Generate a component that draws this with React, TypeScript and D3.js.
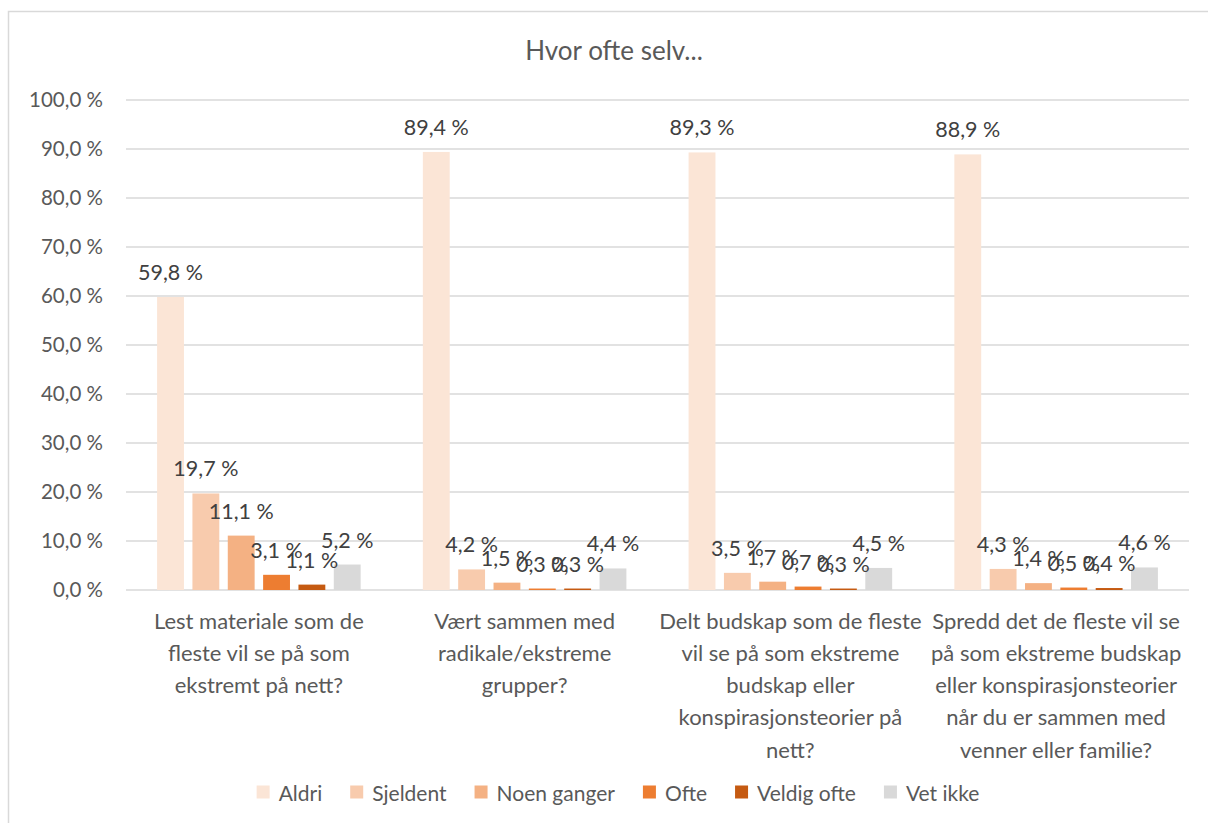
import * as d3 from 'd3';
import React, { useRef, useEffect } from 'react';

// survey answers, share of respondents in percent
const categories = [
  ['Lest materiale som de', 'fleste vil se på som', 'ekstremt på nett?'],
  ['Vært sammen med', 'radikale/ekstreme', 'grupper?'],
  ['Delt budskap som de fleste', 'vil se på som ekstreme', 'budskap eller', 'konspirasjonsteorier på', 'nett?'],
  ['Spredd det de fleste vil se', 'på som ekstreme budskap', 'eller konspirasjonsteorier', 'når du er sammen med', 'venner eller familie?'],
];
const seriesNames = ['Aldri', 'Sjeldent', 'Noen ganger', 'Ofte', 'Veldig ofte', 'Vet ikke'];
const seriesColors = ['#FBE5D6', '#F8CBAD', '#F4B183', '#ED7D31', '#C55A11', '#D9D9D9'];
const aldri = [59.8, 89.4, 89.3, 88.9];
const sjeldent = [19.7, 4.2, 3.5, 4.3];
const noenGanger = [11.1, 1.5, 1.7, 1.4];
const ofte = [3.1, 0.3, 0.7, 0.5];
const veldigOfte = [1.1, 0.3, 0.3, 0.4];
const vetIkke = [5.2, 4.4, 4.5, 4.6];
const yTicks = [0, 10, 20, 30, 40, 50, 60, 70, 80, 90, 100];

const values = [aldri, sjeldent, noenGanger, ofte, veldigOfte, vetIkke];
const fmt = (v) => d3.format('.1f')(v).replace('.', ',') + ' %';

const FONT = 'Lato, "Open Sans", sans-serif';
const TEXT = '#595959';

const App = () => {
  const ref = useRef(null);
  const width = 1208;
  const height = 823;
  const marginLeft = 126;
  const marginRight = 19;
  const marginTop = 100;
  const plotBottom = 590;

  useEffect(() => {
    const svg = d3.select(ref.current);
    svg.selectAll('*').remove();

    // chart border
    svg.append('rect')
      .attr('x', 8.5).attr('y', 11.5)
      .attr('width', 1220).attr('height', 830)
      .attr('fill', '#fff').attr('stroke', '#D9D9D9').attr('stroke-width', 1.5);

    svg.append('text')
      .attr('x', 614).attr('y', 50)
      .attr('text-anchor', 'middle').attr('dominant-baseline', 'central')
      .attr('font-family', FONT).attr('font-size', 26).attr('fill', TEXT)
      .text('Hvor ofte selv...');

    const x0 = d3.scaleBand()
      .domain(d3.range(categories.length))
      .range([marginLeft, width - marginRight]);
    const outer = x0.bandwidth() * 0.117;
    const x1 = d3.scaleBand()
      .domain(d3.range(seriesNames.length))
      .range([outer, x0.bandwidth() - outer])
      .paddingInner(0.24);
    const y = d3.scaleLinear([0, 100], [plotBottom, marginTop]);

    // grid
    const grid = svg.append('g');
    grid.selectAll('line').data(yTicks).join('line')
      .attr('x1', marginLeft).attr('x2', width - marginRight)
      .attr('y1', (d) => y(d)).attr('y2', (d) => y(d))
      .attr('stroke', '#D9D9D9').attr('stroke-width', 1.5);

    const yAxis = d3.axisLeft(y).tickValues(yTicks).tickSize(0).tickPadding(23).tickFormat(fmt);
    const gy = svg.append('g').attr('transform', `translate(${marginLeft},0)`).call(yAxis);
    gy.select('.domain').remove();
    gy.selectAll('text').attr('font-family', FONT).attr('font-size', 20.5).attr('fill', TEXT);

    // bars
    values.forEach((series, s) => {
      const g = svg.append('g');
      g.selectAll('rect').data(series).join('rect')
        .attr('x', (d, i) => x0(i) + x1(s))
        .attr('y', (d) => y(d))
        .attr('width', x1.bandwidth())
        .attr('height', (d) => y(0) - y(d))
        .attr('fill', seriesColors[s]);
    });
    values.forEach((series, s) => {
      const g = svg.append('g');
      g.selectAll('text').data(series).join('text')
        .attr('x', (d, i) => x0(i) + x1(s) + x1.bandwidth() / 2)
        .attr('y', (d) => y(d) - 25)
        .attr('text-anchor', 'middle').attr('dominant-baseline', 'central')
        .attr('font-family', FONT).attr('font-size', 21.5).attr('fill', '#404040')
        .text((d) => fmt(d));
    });

    // category labels
    const cat = svg.append('g');
    categories.forEach((lines, i) => {
      const t = cat.append('text')
        .attr('text-anchor', 'middle')
        .attr('font-family', FONT).attr('font-size', 22).attr('fill', TEXT);
      lines.forEach((line, j) => {
        t.append('tspan')
          .attr('x', x0(i) + x0.bandwidth() / 2)
          .attr('y', 620 + j * 32.3)
          .attr('dominant-baseline', 'central')
          .text(line);
      });
    });

    // legend
    const legend = svg.append('g');
    const items = seriesNames.map((name, i) => {
      const item = legend.append('g');
      item.append('rect').attr('width', 13).attr('height', 13).attr('y', -6.5).attr('fill', seriesColors[i]);
      const t = item.append('text')
        .attr('x', 22).attr('dominant-baseline', 'central')
        .attr('font-family', FONT).attr('font-size', 21).attr('fill', TEXT)
        .text(name);
      return { item, w: 22 + t.node().getComputedTextLength() };
    });
    const gap = 28;
    const total = d3.sum(items, (d) => d.w) + gap * (items.length - 1);
    let cx = 618 - total / 2;
    items.forEach(({ item, w }) => {
      item.attr('transform', `translate(${cx},792)`);
      cx += w + gap;
    });
  }, []);

  return (
    <svg ref={ref} width={width} height={height} style={{ position: 'absolute', left: 0, top: 0 }} />
  );
};

export default App;
